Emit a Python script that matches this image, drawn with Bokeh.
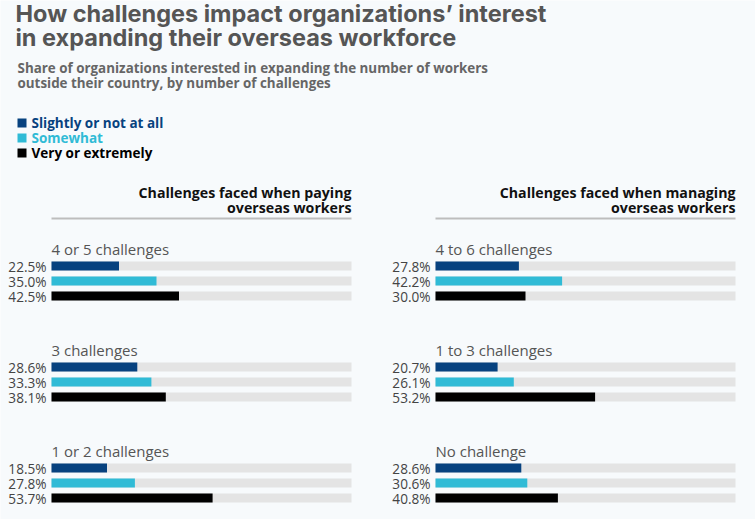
from bokeh.plotting import figure
from bokeh.models import Range1d, ColumnDataSource
from bokeh.core.properties import value
from bokeh.embed import file_html
from bokeh.resources import INLINE

# ---- data ----
series_names = ["Slightly or not at all", "Somewhat", "Very or extremely"]
series_colors = ["#07427f", "#30bbd6", "#000000"]

left_title = ["Challenges faced when paying", "overseas workers"]
left_groups = ["4 or 5 challenges", "3 challenges", "1 or 2 challenges"]
left_slightly = [22.5, 28.6, 18.5]
left_somewhat = [35.0, 33.3, 27.8]
left_very = [42.5, 38.1, 53.7]

right_title = ["Challenges faced when managing", "overseas workers"]
right_groups = ["4 to 6 challenges", "1 to 3 challenges", "No challenge"]
right_slightly = [27.8, 20.7, 28.6]
right_somewhat = [42.2, 26.1, 30.6]
right_very = [30.0, 53.2, 40.8]

title_lines = ["How challenges impact organizations\u2019 interest",
               "in expanding their overseas workforce"]
subtitle_lines = ["Share of organizations interested in expanding the number of workers",
                  "outside their country, by number of challenges"]

W, H = 755, 519
BG = "#f7fafc"

p = figure(width=W, height=H, output_backend="svg", toolbar_location=None,
           x_range=Range1d(0, W), y_range=Range1d(H, 0),
           min_border=0, background_fill_color=BG, border_fill_color=BG)
p.outline_line_color = None
p.xaxis.visible = False
p.yaxis.visible = False
p.xgrid.visible = False
p.ygrid.visible = False

# panel ranges: 0-100% spans 300 px, starting at x=51 (left) and x=435 (right)
p.extra_x_ranges = {
    "left": Range1d(-51 / 3.0, (W - 51) / 3.0),
    "right": Range1d(-435 / 3.0, (W - 435) / 3.0),
}

BOLD = "Open Sans"
LIGHT = "Open Sans"

# title
p.text(x=[15, 15], y=[13, 37], text=title_lines, text_font=value("Inter"),
       text_font_style="bold", text_font_size="23.5px", text_color="#555555",
       text_baseline="middle")
# subtitle
p.text(x=[17, 17], y=[67.5, 82.5], text=subtitle_lines, text_font=value(BOLD),
       text_font_style="bold", text_font_size="13.4px", text_color="#666666",
       text_baseline="middle")

# legend
leg_y = [122.5, 137.5, 152.5]
p.rect(x=[21.5] * 3, y=leg_y, width=9, height=9, fill_color=series_colors,
       line_color=None)
p.text(x=[31] * 3, y=leg_y, text=series_names,
       text_color=series_colors, text_font=value(BOLD), text_font_style="bold",
       text_font_size="13.5px", text_baseline="middle")


def panel(rng, header, groups, s1, s2, s3):
    # header
    p.text(x=[100, 100], y=[192, 207], text=header, x_range_name=rng,
           text_align="right", text_baseline="middle",
           text_font=value(BOLD), text_font_style="bold",
           text_font_size="14.2px", text_color="#111111")
    p.segment(x0=[0], x1=[100], y0=[218], y1=[218], x_range_name=rng,
              line_color="#bdbdbd", line_width=2)
    ys, vals, cols = [], [], []
    lab_y = []
    for g in range(len(groups)):
        base = 265.5 + 101 * g
        lab_y.append(base - 17)
        for i, arr in enumerate([s1, s2, s3]):
            ys.append(base + 15 * i)
            vals.append(arr[g])
            cols.append(series_colors[i])
    src = ColumnDataSource(dict(y=ys, v=vals, c=cols,
                                lab=["%.1f%%" % v for v in vals],
                                full=[100] * len(ys)))
    p.hbar(y="y", left=0, right="full", height=9, source=src, x_range_name=rng,
           fill_color="#e4e4e4", line_color=None)
    p.hbar(y="y", left=0, right="v", height=9, source=src, x_range_name=rng,
           fill_color="c", line_color=None)
    p.text(x=0, y="y", text="lab", source=src, x_range_name=rng, x_offset=-5,
           text_align="right", text_baseline="middle", text_font=value(LIGHT),
           text_font_size="13.6px", text_color="#444444")
    p.text(x=[0] * len(groups), y=lab_y, text=groups, x_range_name=rng,
           text_baseline="middle", text_font=value(LIGHT),
           text_font_size="15px", text_color="#555555")


panel("left", left_title, left_groups, left_slightly, left_somewhat, left_very)
panel("right", right_title, right_groups, right_slightly, right_somewhat, right_very)

open("out.html", "w").write(file_html(p, INLINE))
